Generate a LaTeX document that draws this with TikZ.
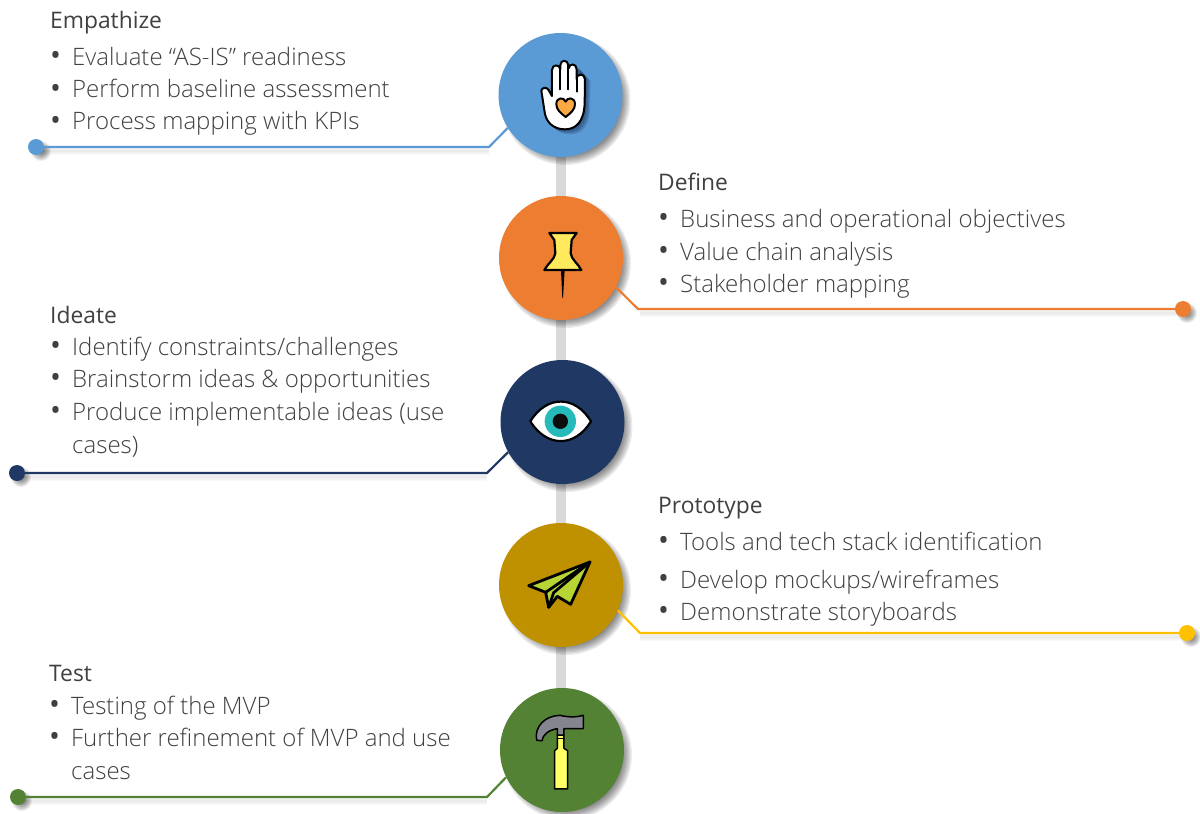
\documentclass[tikz,border=0pt]{standalone}
\usepackage{fontspec}
\setmainfont{Open Sans}[UprightFont=* Light,BoldFont=*]
\newfontfamily\titlefont{Open Sans}
\definecolor{cblue}{HTML}{5B9BD5}
\definecolor{corange}{HTML}{ED7D31}
\definecolor{cnavy}{HTML}{1F3864}
\definecolor{cgold}{HTML}{BF9000}
\definecolor{camber}{HTML}{FFC000}
\definecolor{cgreen}{HTML}{548235}
\definecolor{cbar}{HTML}{D9D9D9}
\definecolor{ctext}{HTML}{404040}
\definecolor{cheart}{HTML}{FBA943}
\definecolor{cpin}{HTML}{FFE95C}
\definecolor{cteal}{HTML}{26BABA}
\definecolor{cplane}{HTML}{B6D433}
\definecolor{chammer}{HTML}{85858F}
\definecolor{chandle}{HTML}{FFFF66}
\tikzset{
  stepcirc/.style={circle,minimum size=124pt,inner sep=0pt,fill=#1},
  enddot/.style={circle,minimum size=16pt,inner sep=0pt,fill=#1},
  conn/.style={draw=#1,line width=2.2pt,line join=miter},
  headtext/.style={anchor=base west,inner sep=0pt,text=ctext,font=\titlefont\fontsize{22.8}{26}\selectfont},
  itemtext/.style={anchor=base west,inner sep=0pt,text=ctext,font=\fontsize{24}{28}\selectfont},
  icon/.style={draw=black,line width=1.4pt,line join=round,line cap=round},
}
\newcommand{\softdisc}[4]{% x y radius spread
  \foreach \d in {0,1,...,7}{
    \fill[black,opacity=.07] (#1+5,#2+5) circle ({#3+#4-\d*#4/4});
  }}
\newcommand{\softline}[4]{% x1 y x2 y offset
  \foreach \w in {2,4,6,8}{
    \draw[black,opacity=.018,line width=\w pt] (#1,#2+4) -- (#3,#2+4);
  }}
\newcommand{\bitem}[1]{\makebox[22pt][l]{\titlefont\fontsize{29}{28}\selectfont\raisebox{-.5pt}{•}}#1}
\begin{document}
\begin{tikzpicture}[x=1pt,y=-1pt]
\useasboundingbox (0,0) rectangle (1200,814);
\fill[white] (0,0) rectangle (1200,814);

% spine
\coordinate (spinetop) at (561,95);
\coordinate (spinebot) at (561,750);
\draw[cbar,line width=10pt] (spinetop) -- (spinebot);

% step circles
\softdisc{560.5}{95}{60}{5}
\node[stepcirc=cblue] (c1) at (560.5,95) {};
\softdisc{561}{258}{60}{5}
\node[stepcirc=corange] (c2) at (561,258) {};
\softdisc{562.5}{422}{60}{5}
\node[stepcirc=cnavy] (c3) at (562.5,422) {};
\softdisc{561}{585}{60}{5}
\node[stepcirc=cgold] (c4) at (561,585) {};
\softdisc{562}{750}{60}{5}
\node[stepcirc=cgreen] (c5) at (562,750) {};

% connector shadows
\softline{40}{147}{489}{4}
\softline{640}{309}{1183}{4}
\softline{20}{473}{487}{4}
\softline{640}{633}{1187}{4}
\softline{20}{797}{487}{4}

% end dots
\softdisc{36}{146}{6}{4}
\node[enddot=cblue] (d1) at (36,147) {};
\softdisc{1182}{308}{6}{4}
\node[enddot=corange] (d2) at (1183,309) {};
\softdisc{16}{472}{6}{4}
\node[enddot=cnavy] (d3) at (17,473) {};
\softdisc{1186}{632}{6}{4}
\node[enddot=camber] (d4) at (1187,633) {};
\softdisc{17}{796}{6}{4}
\node[enddot=cgreen] (d5) at (18,797) {};

% connectors
\coordinate (b1) at (489,147);
\coordinate (b2) at (638,309);
\coordinate (b3) at (487,473);
\coordinate (b4) at (640,633);
\coordinate (b5) at (487,797);
\draw[conn=cblue] (d1.center) -- (b1) -- (c1.212);
\draw[conn=corange] (d2.center) -- (b2) -- (c2.-28);
\draw[conn=cnavy] (d3.center) -- (b3) -- (c3.209);
\draw[conn=camber] (d4.center) -- (b4) -- (c4.-24);
\draw[conn=cgreen] (d5.center) -- (b5) -- (c5.206);

% hand icon
\begin{scope}[shift={(480,20)},x=.3333pt,y=-.3333pt]
  \foreach \k in {1,...,5}{
    \fill[cnavy,opacity=.2,shift={(\k*3.4,\k*3.0)}]
      (184,212) -- (215,210) -- (215,150) arc[start angle=180,end angle=0,radius=13] -- (240,130) arc[start angle=180,end angle=0,radius=13] -- (290,140) -- (315,170) -- (313,255) .. controls (310,310) and (285,328) .. (255,328) .. controls (215,328) and (195,305) .. (192,270) -- cycle;
  }
  \filldraw[icon,fill=white,line width=2pt]
    (184,212) .. controls (186,202) and (200,200) .. (206,210)
    .. controls (210,218) and (214,225) .. (216,228)
    -- (216,150) .. controls (216,132) and (240,132) .. (241,148)
    -- (241,135) .. controls (242,118) and (264,118) .. (265,136)
    -- (266,145) .. controls (268,128) and (290,130) .. (290,148)
    -- (290,178) .. controls (290,158) and (315,160) .. (315,178)
    -- (314,250) .. controls (312,305) and (288,328) .. (255,328)
    .. controls (218,328) and (196,305) .. (193,270) -- cycle;
  \draw[icon,line width=2pt] (241,148) -- (241,208);
  \draw[icon,line width=2pt] (265,136) -- (265,208);
  \draw[icon,line width=2pt] (290,178) -- (290,215);
  \filldraw[icon,fill=cheart,line width=2pt]
    (257,291) .. controls (240,278) and (229,268) .. (229,252)
    .. controls (229,232) and (252,230) .. (257,245)
    .. controls (262,230) and (285,232) .. (285,252)
    .. controls (285,268) and (274,278) .. (257,291) -- cycle;
\end{scope}

% pin icon
\begin{scope}[shift={(480,190)},x=.3333pt,y=-.3333pt]
  \fill[black] (243,240) -- (254,240) -- (249,324) -- (247,324) -- cycle;
  \filldraw[icon,fill=cpin,line width=2.2pt]
    (208,129) -- (290,129) -- (275,150) -- (272,190)
    .. controls (274,208) and (295,222) .. (304,240)
    -- (193,240) .. controls (202,222) and (224,208) .. (226,190)
    -- (223,150) -- cycle;
\end{scope}

% eye icon
\begin{scope}[shift={(480,350)},x=.3333pt,y=-.3333pt]
  \filldraw[icon,fill=white,line width=2.2pt]
    (151,214) .. controls (200,135) and (285,135) .. (333,214)
    .. controls (285,293) and (200,293) .. (151,214) -- cycle;
  \fill[cteal] (241,214) circle (47);
  \fill[black!95] (241,214) circle (23);
\end{scope}

% plane icon
\begin{scope}[shift={(480,515)},x=.3333pt,y=-.3333pt]
  \filldraw[icon,fill=cplane,line width=2.8pt]
    (330,141) -- (146,212) -- (197,232) -- (206,277) -- (232,244) -- (272,268) -- cycle;
  \draw[icon,line width=2.8pt] (330,141) -- (197,232);
  \draw[icon,line width=2.8pt] (330,141) -- (221,233) -- (206,277);
\end{scope}

% hammer icon
\begin{scope}[shift={(480,680)},x=.3333pt,y=-.3333pt]
  \filldraw[icon,fill=chandle,line width=1.5pt]
    (232,165) -- (252,165) -- (252,205) -- (263,212) -- (263,327) -- (224,327) -- (224,212) -- (232,205) -- cycle;
  \draw[icon,line width=1.5pt] (232,175) -- (252,175);
  \filldraw[icon,fill=chammer,line width=1.5pt]
    (170,181) .. controls (162,140) and (195,107) .. (240,106)
    .. controls (265,112) and (290,112) .. (310,106)
    -- (310,146) -- (252,146) -- (252,165) -- (232,165) -- (232,146)
    .. controls (205,150) and (188,165) .. (186,182) -- cycle;
\end{scope}

% texts
\node[headtext] (t1) at (50,28) {Empathize};
\node[itemtext] (i11) at (50,65) {\bitem{Evaluate “AS-IS” readiness}};
\node[itemtext] (i12) at (50,97.5) {\bitem{Perform baseline assessment}};
\node[itemtext] (i13) at (50,129.5) {\bitem{Process mapping with KPIs}};

\node[headtext] (t2) at (658,190) {Define};
\node[itemtext] (i21) at (658,227) {\bitem{Business and operational objectives}};
\node[itemtext] (i22) at (658,260) {\bitem{Value chain analysis}};
\node[itemtext] (i23) at (658,292) {\bitem{Stakeholder mapping}};

\node[headtext] (t3) at (50,323) {Ideate};
\node[itemtext] (i31) at (50,355) {\bitem{Identify constraints/challenges}};
\node[itemtext] (i32) at (50,387) {\bitem{Brainstorm ideas \& opportunities}};
\node[itemtext] (i33) at (50,420) {\bitem{Produce implementable ideas (use}};
\node[itemtext] (i34) at (72,453) {cases)};

\node[headtext] (t4) at (658,513) {Prototype};
\node[itemtext] (i41) at (658,550) {\bitem{Tools and tech stack identification}};
\node[itemtext] (i42) at (658,588) {\bitem{Develop mockups/wireframes}};
\node[itemtext] (i43) at (658,620) {\bitem{Demonstrate storyboards}};

\node[headtext] (t5) at (49,681) {Test};
\node[itemtext] (i51) at (49,714) {\bitem{Testing of the MVP}};
\node[itemtext] (i52) at (49,746) {\bitem{Further refinement of MVP and use}};
\node[itemtext] (i53) at (71,779) {cases};
\end{tikzpicture}
\end{document}
